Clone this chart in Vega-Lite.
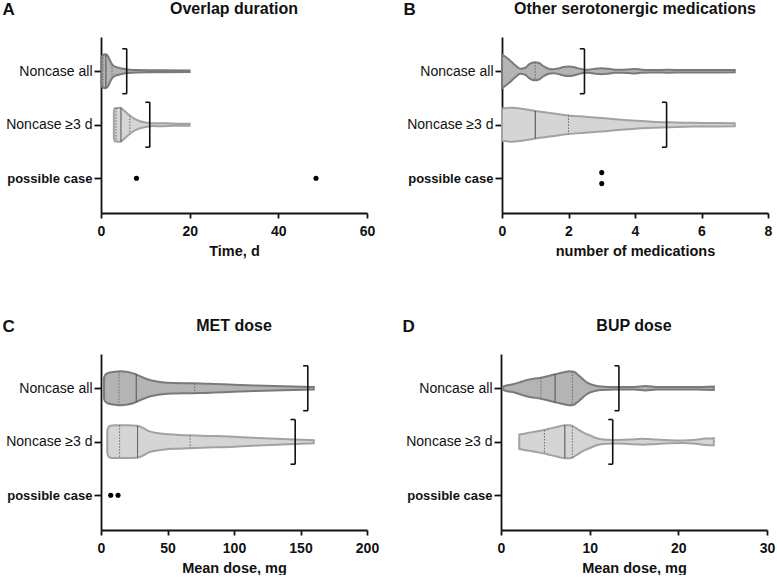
{
"$schema": "https://vega.github.io/schema/vega-lite/v6.json",
"padding": {"left": 2, "top": 0, "right": 2, "bottom": 0},
"background": "white",
"config": {
 "font": "Liberation Sans",
 "view": {"stroke": null},
 "axis": {"grid": false, "domainColor": "#111", "domainWidth": 1.8, "tickColor": "#111", "tickWidth": 1.8, "labelColor": "#111", "titleColor": "#111"},
 "axisX": {"tickSize": 5, "labelFontSize": 14, "labelFontWeight": "bold", "labelPadding": 6, "titleFontSize": 14.5, "titleFontWeight": "bold", "titlePadding": 6, "labelFlush": false},
 "axisY": {"tickSize": 7, "labelPadding": 2, "titleAngle": 0, "titleAlign": "left", "titleBaseline": "alphabetic", "titleFontSize": 17, "titleFontWeight": "bold", "titleX": -99, "titleY": -23},
 "title": {"fontSize": 16, "fontWeight": "bold", "color": "#111", "frame": "group", "anchor": "middle", "offset": -17}
},
"datasets": {
 "vA": [
  {"g":"all","v":0.1,"lo":-0.224,"hi":0.224},{"g":"all","v":0.3,"lo":-0.299,"hi":0.299},{"g":"all","v":1.0,"lo":-0.318,"hi":0.318},{"g":"all","v":1.6,"lo":-0.28,"hi":0.28},{"g":"all","v":2.0,"lo":-0.206,"hi":0.206},{"g":"all","v":2.5,"lo":-0.131,"hi":0.131},{"g":"all","v":3,"lo":-0.093,"hi":0.093},{"g":"all","v":4,"lo":-0.065,"hi":0.065},{"g":"all","v":5,"lo":-0.047,"hi":0.047},{"g":"all","v":6,"lo":-0.034,"hi":0.034},{"g":"all","v":8,"lo":-0.022,"hi":0.022},{"g":"all","v":12,"lo":-0.019,"hi":0.019},{"g":"all","v":20,"lo":-0.015,"hi":0.015},
  {"g":"ge3","v":2.9,"lo":0.757,"hi":1.243},{"g":"ge3","v":3.1,"lo":0.692,"hi":1.308},{"g":"ge3","v":4.3,"lo":0.682,"hi":1.318},{"g":"ge3","v":5.0,"lo":0.72,"hi":1.28},{"g":"ge3","v":6.0,"lo":0.794,"hi":1.206},{"g":"ge3","v":7.0,"lo":0.86,"hi":1.14},{"g":"ge3","v":8.0,"lo":0.907,"hi":1.093},{"g":"ge3","v":9.0,"lo":0.94,"hi":1.06},{"g":"ge3","v":10,"lo":0.957,"hi":1.043},{"g":"ge3","v":12,"lo":0.974,"hi":1.026},{"g":"ge3","v":14,"lo":0.97,"hi":1.03},{"g":"ge3","v":16,"lo":0.979,"hi":1.021},{"g":"ge3","v":20,"lo":0.981,"hi":1.019}
 ],
 "lA": [
  {"t":"q","v":0.45,"lo":-0.305,"hi":0.305},{"t":"med","v":1.1,"lo":-0.315,"hi":0.315},{"t":"q","v":2.5,"lo":-0.131,"hi":0.131},
  {"t":"q","v":3.4,"lo":0.69,"hi":1.31},{"t":"med","v":4.5,"lo":0.683,"hi":1.317},{"t":"q","v":6.5,"lo":0.826,"hi":1.174}
 ],
 "bA": [
  {"x":5.8,"x2":5.8,"y":-0.42,"y2":0.42},{"x":4.8,"x2":5.8,"y":-0.42,"y2":-0.42},{"x":4.8,"x2":5.8,"y":0.42,"y2":0.42},
  {"x":11,"x2":11,"y":0.58,"y2":1.42},{"x":10,"x2":11,"y":0.58,"y2":0.58},{"x":10,"x2":11,"y":1.42,"y2":1.42}
 ],
 "pA": [{"v":8,"r":2},{"v":48.5,"r":2}],
 "vB": [
  {"g":"all","v":0,"lo":-0.318,"hi":0.318},{"g":"all","v":0.2,"lo":-0.224,"hi":0.224},{"g":"all","v":0.4,"lo":-0.112,"hi":0.112},{"g":"all","v":0.55,"lo":-0.047,"hi":0.047},{"g":"all","v":0.7,"lo":-0.065,"hi":0.065},{"g":"all","v":0.8,"lo":-0.121,"hi":0.121},{"g":"all","v":0.9,"lo":-0.159,"hi":0.159},{"g":"all","v":1.0,"lo":-0.168,"hi":0.168},{"g":"all","v":1.1,"lo":-0.159,"hi":0.159},{"g":"all","v":1.25,"lo":-0.093,"hi":0.093},{"g":"all","v":1.4,"lo":-0.047,"hi":0.047},{"g":"all","v":1.55,"lo":-0.037,"hi":0.037},{"g":"all","v":1.7,"lo":-0.052,"hi":0.052},{"g":"all","v":1.85,"lo":-0.079,"hi":0.079},{"g":"all","v":2.0,"lo":-0.088,"hi":0.088},{"g":"all","v":2.15,"lo":-0.079,"hi":0.079},{"g":"all","v":2.3,"lo":-0.052,"hi":0.052},{"g":"all","v":2.45,"lo":-0.034,"hi":0.034},{"g":"all","v":2.6,"lo":-0.03,"hi":0.03},{"g":"all","v":2.8,"lo":-0.047,"hi":0.047},{"g":"all","v":3.0,"lo":-0.056,"hi":0.056},{"g":"all","v":3.2,"lo":-0.045,"hi":0.045},{"g":"all","v":3.4,"lo":-0.03,"hi":0.03},{"g":"all","v":3.6,"lo":-0.028,"hi":0.028},{"g":"all","v":3.8,"lo":-0.034,"hi":0.034},{"g":"all","v":4.0,"lo":-0.041,"hi":0.041},{"g":"all","v":4.2,"lo":-0.03,"hi":0.03},{"g":"all","v":4.5,"lo":-0.024,"hi":0.024},{"g":"all","v":5,"lo":-0.026,"hi":0.026},{"g":"all","v":5.5,"lo":-0.022,"hi":0.022},{"g":"all","v":6,"lo":-0.022,"hi":0.022},{"g":"all","v":7,"lo":-0.021,"hi":0.021},
  {"g":"ge3","v":0,"lo":0.701,"hi":1.299},{"g":"ge3","v":0.3,"lo":0.682,"hi":1.318},{"g":"ge3","v":0.6,"lo":0.701,"hi":1.299},{"g":"ge3","v":1.0,"lo":0.744,"hi":1.256},{"g":"ge3","v":1.5,"lo":0.785,"hi":1.215},{"g":"ge3","v":2.0,"lo":0.826,"hi":1.174},{"g":"ge3","v":2.5,"lo":0.85,"hi":1.15},{"g":"ge3","v":3.0,"lo":0.873,"hi":1.127},{"g":"ge3","v":3.5,"lo":0.903,"hi":1.097},{"g":"ge3","v":4.0,"lo":0.925,"hi":1.075},{"g":"ge3","v":4.5,"lo":0.944,"hi":1.056},{"g":"ge3","v":5.0,"lo":0.955,"hi":1.045},{"g":"ge3","v":5.5,"lo":0.963,"hi":1.037},{"g":"ge3","v":6.0,"lo":0.966,"hi":1.034},{"g":"ge3","v":7.0,"lo":0.97,"hi":1.03}
 ],
 "lB": [
  {"t":"q","v":1.0,"lo":-0.168,"hi":0.168},
  {"t":"med","v":1.0,"lo":0.744,"hi":1.256},{"t":"q","v":2.0,"lo":0.826,"hi":1.174}
 ],
 "bB": [
  {"x":2.48,"x2":2.48,"y":-0.42,"y2":0.42},{"x":2.34,"x2":2.48,"y":-0.42,"y2":-0.42},{"x":2.34,"x2":2.48,"y":0.42,"y2":0.42},
  {"x":4.95,"x2":4.95,"y":0.58,"y2":1.42},{"x":4.81,"x2":4.95,"y":0.58,"y2":0.58},{"x":4.81,"x2":4.95,"y":1.42,"y2":1.42}
 ],
 "pB": [{"v":3,"r":1.895},{"v":3,"r":2.1}],
 "vC": [
  {"g":"all","v":2.3,"lo":-0.197,"hi":0.197},{"g":"all","v":3,"lo":-0.244,"hi":0.244},{"g":"all","v":5,"lo":-0.281,"hi":0.281},{"g":"all","v":10,"lo":-0.306,"hi":0.306},{"g":"all","v":15,"lo":-0.319,"hi":0.319},{"g":"all","v":20,"lo":-0.306,"hi":0.306},{"g":"all","v":26,"lo":-0.263,"hi":0.263},{"g":"all","v":31,"lo":-0.206,"hi":0.206},{"g":"all","v":36,"lo":-0.159,"hi":0.159},{"g":"all","v":41,"lo":-0.131,"hi":0.131},{"g":"all","v":46,"lo":-0.113,"hi":0.113},{"g":"all","v":55,"lo":-0.099,"hi":0.099},{"g":"all","v":65,"lo":-0.094,"hi":0.094},{"g":"all","v":75,"lo":-0.09,"hi":0.09},{"g":"all","v":85,"lo":-0.081,"hi":0.081},{"g":"all","v":100,"lo":-0.066,"hi":0.066},{"g":"all","v":115,"lo":-0.053,"hi":0.053},{"g":"all","v":130,"lo":-0.043,"hi":0.043},{"g":"all","v":145,"lo":-0.032,"hi":0.032},{"g":"all","v":160,"lo":-0.023,"hi":0.023},
  {"g":"ge3","v":4.7,"lo":0.794,"hi":1.206},{"g":"ge3","v":5.5,"lo":0.728,"hi":1.272},{"g":"ge3","v":7,"lo":0.7,"hi":1.3},{"g":"ge3","v":10,"lo":0.694,"hi":1.306},{"g":"ge3","v":20,"lo":0.694,"hi":1.306},{"g":"ge3","v":27,"lo":0.7,"hi":1.3},{"g":"ge3","v":32,"lo":0.747,"hi":1.253},{"g":"ge3","v":36,"lo":0.803,"hi":1.197},{"g":"ge3","v":42,"lo":0.837,"hi":1.163},{"g":"ge3","v":48,"lo":0.856,"hi":1.144},{"g":"ge3","v":56,"lo":0.869,"hi":1.131},{"g":"ge3","v":66,"lo":0.88,"hi":1.12},{"g":"ge3","v":80,"lo":0.891,"hi":1.109},{"g":"ge3","v":96,"lo":0.901,"hi":1.099},{"g":"ge3","v":114,"lo":0.925,"hi":1.075},{"g":"ge3","v":128,"lo":0.94,"hi":1.06},{"g":"ge3","v":140,"lo":0.953,"hi":1.047},{"g":"ge3","v":150,"lo":0.962,"hi":1.038},{"g":"ge3","v":160,"lo":0.972,"hi":1.028}
 ],
 "lC": [
  {"t":"q","v":13.5,"lo":-0.317,"hi":0.317},{"t":"med","v":26.5,"lo":-0.26,"hi":0.26},{"t":"q","v":70.5,"lo":-0.092,"hi":0.092},
  {"t":"q","v":14,"lo":0.694,"hi":1.306},{"t":"med","v":27.5,"lo":0.7,"hi":1.3},{"t":"q","v":67,"lo":0.881,"hi":1.119}
 ],
 "bC": [
  {"x":155.5,"x2":155.5,"y":-0.42,"y2":0.42},{"x":152,"x2":155.5,"y":-0.42,"y2":-0.42},{"x":152,"x2":155.5,"y":0.42,"y2":0.42},
  {"x":146,"x2":146,"y":0.585,"y2":1.42},{"x":142.5,"x2":146,"y":0.585,"y2":0.585},{"x":142.5,"x2":146,"y":1.42,"y2":1.42}
 ],
 "pC": [{"v":7.3,"r":2},{"v":12.8,"r":2}],
 "vD": [
  {"g":"all","v":0.2,"lo":-0.028,"hi":0.028},{"g":"all","v":0.5,"lo":-0.047,"hi":0.047},{"g":"all","v":1.5,"lo":-0.079,"hi":0.079},{"g":"all","v":2.3,"lo":-0.122,"hi":0.122},{"g":"all","v":3,"lo":-0.156,"hi":0.156},{"g":"all","v":4.5,"lo":-0.197,"hi":0.197},{"g":"all","v":6,"lo":-0.257,"hi":0.257},{"g":"all","v":7,"lo":-0.296,"hi":0.296},{"g":"all","v":7.7,"lo":-0.319,"hi":0.319},{"g":"all","v":8.2,"lo":-0.31,"hi":0.31},{"g":"all","v":8.6,"lo":-0.263,"hi":0.263},{"g":"all","v":9,"lo":-0.206,"hi":0.206},{"g":"all","v":9.5,"lo":-0.131,"hi":0.131},{"g":"all","v":10.1,"lo":-0.075,"hi":0.075},{"g":"all","v":10.7,"lo":-0.047,"hi":0.047},{"g":"all","v":11.3,"lo":-0.034,"hi":0.034},{"g":"all","v":13,"lo":-0.024,"hi":0.024},{"g":"all","v":15,"lo":-0.024,"hi":0.024},{"g":"all","v":16.3,"lo":-0.041,"hi":0.041},{"g":"all","v":17.5,"lo":-0.024,"hi":0.024},{"g":"all","v":20,"lo":-0.023,"hi":0.023},{"g":"all","v":22,"lo":-0.024,"hi":0.024},{"g":"all","v":24,"lo":-0.034,"hi":0.034},
  {"g":"ge3","v":2.06,"lo":0.865,"hi":1.135},{"g":"ge3","v":3,"lo":0.835,"hi":1.165},{"g":"ge3","v":4,"lo":0.807,"hi":1.193},{"g":"ge3","v":4.9,"lo":0.779,"hi":1.221},{"g":"ge3","v":5.6,"lo":0.75,"hi":1.25},{"g":"ge3","v":6.4,"lo":0.719,"hi":1.281},{"g":"ge3","v":7.2,"lo":0.69,"hi":1.31},{"g":"ge3","v":7.8,"lo":0.69,"hi":1.31},{"g":"ge3","v":8.6,"lo":0.76,"hi":1.24},{"g":"ge3","v":9.3,"lo":0.831,"hi":1.169},{"g":"ge3","v":10.1,"lo":0.887,"hi":1.113},{"g":"ge3","v":10.7,"lo":0.929,"hi":1.071},{"g":"ge3","v":11.3,"lo":0.953,"hi":1.047},{"g":"ge3","v":12,"lo":0.962,"hi":1.038},{"g":"ge3","v":13,"lo":0.966,"hi":1.034},{"g":"ge3","v":14.5,"lo":0.959,"hi":1.041},{"g":"ge3","v":16,"lo":0.944,"hi":1.056},{"g":"ge3","v":17.5,"lo":0.959,"hi":1.041},{"g":"ge3","v":19,"lo":0.972,"hi":1.028},{"g":"ge3","v":20.5,"lo":0.977,"hi":1.023},{"g":"ge3","v":22,"lo":0.962,"hi":1.038},{"g":"ge3","v":23,"lo":0.94,"hi":1.06},{"g":"ge3","v":24,"lo":0.934,"hi":1.066}
 ],
 "lD": [
  {"t":"q","v":4.5,"lo":-0.197,"hi":0.197},{"t":"med","v":6.1,"lo":-0.26,"hi":0.26},{"t":"q","v":8.05,"lo":-0.31,"hi":0.31},
  {"t":"q","v":4.9,"lo":0.779,"hi":1.221},{"t":"med","v":7.2,"lo":0.69,"hi":1.31},{"t":"q","v":8.05,"lo":0.71,"hi":1.29}
 ],
 "bD": [
  {"x":13.3,"x2":13.3,"y":-0.42,"y2":0.42},{"x":12.8,"x2":13.3,"y":-0.42,"y2":-0.42},{"x":12.8,"x2":13.3,"y":0.42,"y2":0.42},
  {"x":12.6,"x2":12.6,"y":0.585,"y2":1.42},{"x":12.1,"x2":12.6,"y":0.585,"y2":0.585},{"x":12.1,"x2":12.6,"y":1.42,"y2":1.42}
 ]
},
"spacing": 59,
"vconcat": [
 {"hconcat": [
  {"width": 266, "height": 176, "title": "Overlap duration",
   "layer": [
    {"data": {"name": "vA"}, "mark": {"type": "area", "orient": "vertical", "strokeWidth": 2, "interpolate": "monotone"},
     "encoding": {
      "x": {"field": "v", "type": "quantitative", "title": "Time, d", "scale": {"domain": [0, 60], "nice": false}, "axis": {"values": [0, 20, 40, 60]}},
      "y": {"field": "lo", "type": "quantitative", "title": "A", "scale": {"domain": [-0.64, 2.65], "reverse": true, "nice": false, "zero": false},
            "axis": {"values": [0, 1, 2], "labelExpr": "datum.value == 0 ? 'Noncase all' : datum.value == 1 ? 'Noncase ≥3 d' : 'possible case'", "labelFontSize": {"condition": {"test": "datum.value == 2", "value": 13}, "value": 14}, "labelFontWeight": {"condition": {"test": "datum.value == 2", "value": "bold"}, "value": "normal"}}},
      "y2": {"field": "hi"},
      "fill": {"field": "g", "type": "nominal", "scale": {"domain": ["all", "ge3"], "range": ["#b4b4b4", "#d5d5d5"]}, "legend": null},
      "stroke": {"field": "g", "type": "nominal", "scale": {"domain": ["all", "ge3"], "range": ["#7a7a7a", "#a2a2a2"]}, "legend": null}
     }},
    {"data": {"name": "lA"}, "mark": {"type": "rule", "strokeWidth": 1},
     "encoding": {
      "x": {"field": "v", "type": "quantitative", "title": "Time, d"},
      "y": {"field": "lo", "type": "quantitative", "title": "A"}, "y2": {"field": "hi"},
      "color": {"field": "t", "type": "nominal", "scale": {"domain": ["med", "q"], "range": ["#444444", "#6a6a6a"]}, "legend": null},
      "strokeDash": {"field": "t", "type": "nominal", "scale": {"domain": ["med", "q"], "range": [[1, 0], [1.5, 1.5]]}, "legend": null}
     }},
    {"data": {"name": "bA"}, "mark": {"type": "rule", "strokeWidth": 1.6, "color": "#111"},
     "encoding": {
      "x": {"field": "x", "type": "quantitative", "title": "Time, d"}, "x2": {"field": "x2"},
      "y": {"field": "y", "type": "quantitative", "title": "A"}, "y2": {"field": "y2"}
     }},
    {"data": {"name": "pA"}, "mark": {"type": "point", "filled": true, "color": "#000", "size": 26, "opacity": 1},
     "encoding": {
      "x": {"field": "v", "type": "quantitative", "title": "Time, d"},
      "y": {"field": "r", "type": "quantitative", "title": "A"}
     }}
   ]},
  {"width": 266, "height": 176, "title": "Other serotonergic medications",
   "layer": [
    {"data": {"name": "vB"}, "mark": {"type": "area", "orient": "vertical", "strokeWidth": 2, "interpolate": "monotone"},
     "encoding": {
      "x": {"field": "v", "type": "quantitative", "title": "number of medications", "scale": {"domain": [0, 8], "nice": false}, "axis": {"values": [0, 2, 4, 6, 8]}},
      "y": {"field": "lo", "type": "quantitative", "title": "B", "scale": {"domain": [-0.64, 2.65], "reverse": true, "nice": false, "zero": false},
            "axis": {"values": [0, 1, 2], "labelExpr": "datum.value == 0 ? 'Noncase all' : datum.value == 1 ? 'Noncase ≥3 d' : 'possible case'", "labelFontSize": {"condition": {"test": "datum.value == 2", "value": 13}, "value": 14}, "labelFontWeight": {"condition": {"test": "datum.value == 2", "value": "bold"}, "value": "normal"}}},
      "y2": {"field": "hi"},
      "fill": {"field": "g", "type": "nominal", "scale": {"domain": ["all", "ge3"], "range": ["#b4b4b4", "#d5d5d5"]}, "legend": null},
      "stroke": {"field": "g", "type": "nominal", "scale": {"domain": ["all", "ge3"], "range": ["#7a7a7a", "#a2a2a2"]}, "legend": null}
     }},
    {"data": {"name": "lB"}, "mark": {"type": "rule", "strokeWidth": 1},
     "encoding": {
      "x": {"field": "v", "type": "quantitative", "title": "number of medications"},
      "y": {"field": "lo", "type": "quantitative", "title": "B"}, "y2": {"field": "hi"},
      "color": {"field": "t", "type": "nominal", "scale": {"domain": ["med", "q"], "range": ["#444444", "#6a6a6a"]}, "legend": null},
      "strokeDash": {"field": "t", "type": "nominal", "scale": {"domain": ["med", "q"], "range": [[1, 0], [1.5, 1.5]]}, "legend": null}
     }},
    {"data": {"name": "bB"}, "mark": {"type": "rule", "strokeWidth": 1.6, "color": "#111"},
     "encoding": {
      "x": {"field": "x", "type": "quantitative", "title": "number of medications"}, "x2": {"field": "x2"},
      "y": {"field": "y", "type": "quantitative", "title": "B"}, "y2": {"field": "y2"}
     }},
    {"data": {"name": "pB"}, "mark": {"type": "point", "filled": true, "color": "#000", "size": 26, "opacity": 1},
     "encoding": {
      "x": {"field": "v", "type": "quantitative", "title": "number of medications"},
      "y": {"field": "r", "type": "quantitative", "title": "B"}
     }}
   ]}
 ], "spacing": 28},
 {"hconcat": [
  {"width": 266, "height": 176, "title": "MET dose",
   "layer": [
    {"data": {"name": "vC"}, "mark": {"type": "area", "orient": "vertical", "strokeWidth": 2, "interpolate": "monotone"},
     "encoding": {
      "x": {"field": "v", "type": "quantitative", "title": "Mean dose, mg", "scale": {"domain": [0, 200], "nice": false}, "axis": {"values": [0, 50, 100, 150, 200]}},
      "y": {"field": "lo", "type": "quantitative", "title": "C", "scale": {"domain": [-0.64, 2.65], "reverse": true, "nice": false, "zero": false},
            "axis": {"values": [0, 1, 2], "labelExpr": "datum.value == 0 ? 'Noncase all' : datum.value == 1 ? 'Noncase ≥3 d' : 'possible case'", "labelFontSize": {"condition": {"test": "datum.value == 2", "value": 13}, "value": 14}, "labelFontWeight": {"condition": {"test": "datum.value == 2", "value": "bold"}, "value": "normal"}}},
      "y2": {"field": "hi"},
      "fill": {"field": "g", "type": "nominal", "scale": {"domain": ["all", "ge3"], "range": ["#b4b4b4", "#d5d5d5"]}, "legend": null},
      "stroke": {"field": "g", "type": "nominal", "scale": {"domain": ["all", "ge3"], "range": ["#7a7a7a", "#a2a2a2"]}, "legend": null}
     }},
    {"data": {"name": "lC"}, "mark": {"type": "rule", "strokeWidth": 1},
     "encoding": {
      "x": {"field": "v", "type": "quantitative", "title": "Mean dose, mg"},
      "y": {"field": "lo", "type": "quantitative", "title": "C"}, "y2": {"field": "hi"},
      "color": {"field": "t", "type": "nominal", "scale": {"domain": ["med", "q"], "range": ["#444444", "#6a6a6a"]}, "legend": null},
      "strokeDash": {"field": "t", "type": "nominal", "scale": {"domain": ["med", "q"], "range": [[1, 0], [1.5, 1.5]]}, "legend": null}
     }},
    {"data": {"name": "bC"}, "mark": {"type": "rule", "strokeWidth": 1.6, "color": "#111"},
     "encoding": {
      "x": {"field": "x", "type": "quantitative", "title": "Mean dose, mg"}, "x2": {"field": "x2"},
      "y": {"field": "y", "type": "quantitative", "title": "C"}, "y2": {"field": "y2"}
     }},
    {"data": {"name": "pC"}, "mark": {"type": "point", "filled": true, "color": "#000", "size": 26, "opacity": 1},
     "encoding": {
      "x": {"field": "v", "type": "quantitative", "title": "Mean dose, mg"},
      "y": {"field": "r", "type": "quantitative", "title": "C"}
     }}
   ]},
  {"width": 266, "height": 176, "title": "BUP dose",
   "layer": [
    {"data": {"name": "vD"}, "mark": {"type": "area", "orient": "vertical", "strokeWidth": 2, "interpolate": "monotone"},
     "encoding": {
      "x": {"field": "v", "type": "quantitative", "title": "Mean dose, mg", "scale": {"domain": [0, 30], "nice": false}, "axis": {"values": [0, 10, 20, 30]}},
      "y": {"field": "lo", "type": "quantitative", "title": "D", "scale": {"domain": [-0.64, 2.65], "reverse": true, "nice": false, "zero": false},
            "axis": {"values": [0, 1, 2], "labelExpr": "datum.value == 0 ? 'Noncase all' : datum.value == 1 ? 'Noncase ≥3 d' : 'possible case'", "labelFontSize": {"condition": {"test": "datum.value == 2", "value": 13}, "value": 14}, "labelFontWeight": {"condition": {"test": "datum.value == 2", "value": "bold"}, "value": "normal"}}},
      "y2": {"field": "hi"},
      "fill": {"field": "g", "type": "nominal", "scale": {"domain": ["all", "ge3"], "range": ["#b4b4b4", "#d5d5d5"]}, "legend": null},
      "stroke": {"field": "g", "type": "nominal", "scale": {"domain": ["all", "ge3"], "range": ["#7a7a7a", "#a2a2a2"]}, "legend": null}
     }},
    {"data": {"name": "lD"}, "mark": {"type": "rule", "strokeWidth": 1},
     "encoding": {
      "x": {"field": "v", "type": "quantitative", "title": "Mean dose, mg"},
      "y": {"field": "lo", "type": "quantitative", "title": "D"}, "y2": {"field": "hi"},
      "color": {"field": "t", "type": "nominal", "scale": {"domain": ["med", "q"], "range": ["#444444", "#6a6a6a"]}, "legend": null},
      "strokeDash": {"field": "t", "type": "nominal", "scale": {"domain": ["med", "q"], "range": [[1, 0], [1.5, 1.5]]}, "legend": null}
     }},
    {"data": {"name": "bD"}, "mark": {"type": "rule", "strokeWidth": 1.6, "color": "#111"},
     "encoding": {
      "x": {"field": "x", "type": "quantitative", "title": "Mean dose, mg"}, "x2": {"field": "x2"},
      "y": {"field": "y", "type": "quantitative", "title": "D"}, "y2": {"field": "y2"}
     }}
   ]}
 ], "spacing": 23}
]
}
